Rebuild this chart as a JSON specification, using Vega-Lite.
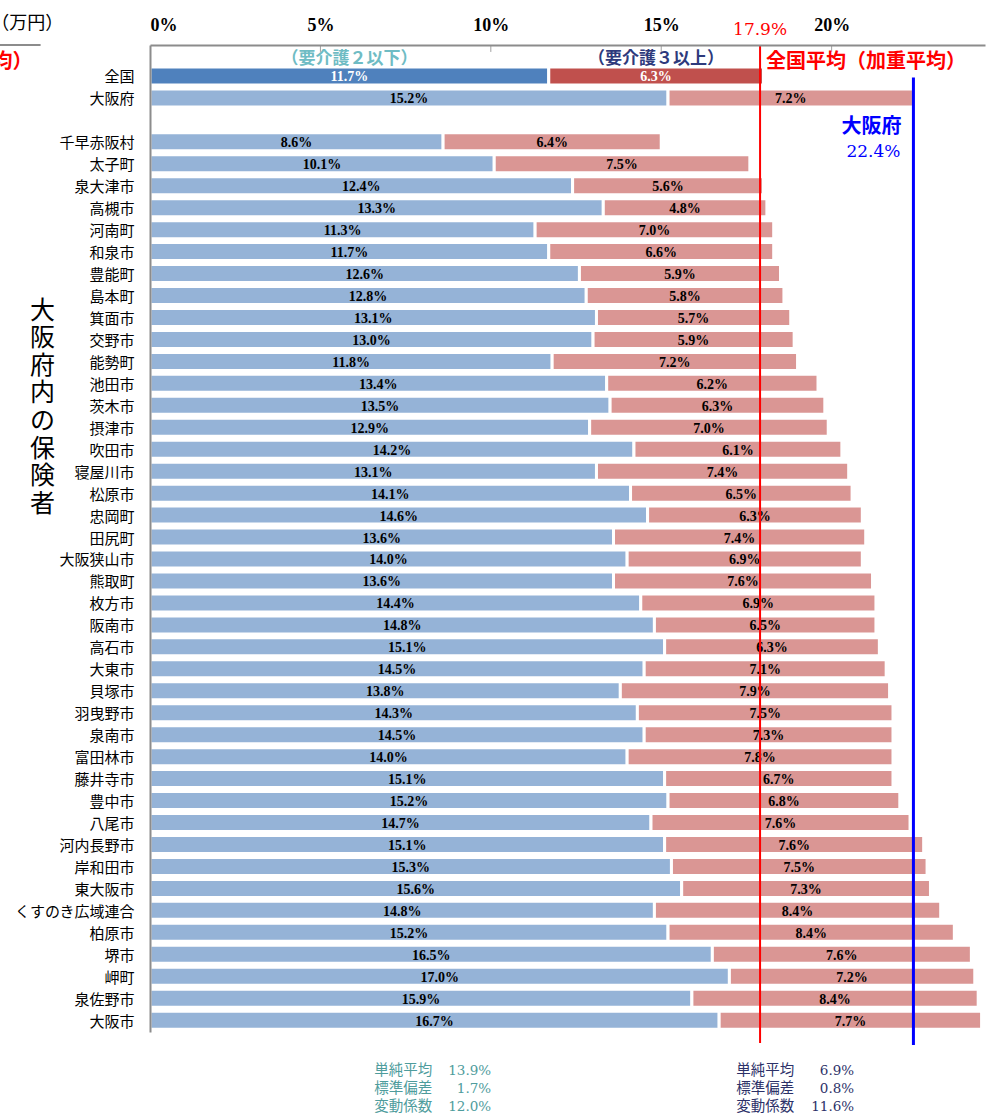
{
  "$schema": "https://vega.github.io/schema/vega-lite/v6.json",
  "width": 835,
  "height": 987,
  "autosize": {"type": "none"},
  "padding": {"left": 150, "top": 45, "right": 7, "bottom": 86},
  "config": {
    "view": {"stroke": null},
    "locale": {"number": {"decimal": ".", "thousands": ",", "grouping": [3], "currency": ["", "%"]}}
  },
  "datasets": {
    "main": [
      {"name": "全国", "level2orLess": 11.7, "level3orMore": 6.3},
      {"name": "大阪府", "level2orLess": 15.2, "level3orMore": 7.2},
      {"name": "千早赤阪村", "level2orLess": 8.6, "level3orMore": 6.4},
      {"name": "太子町", "level2orLess": 10.1, "level3orMore": 7.5},
      {"name": "泉大津市", "level2orLess": 12.4, "level3orMore": 5.6},
      {"name": "高槻市", "level2orLess": 13.3, "level3orMore": 4.8},
      {"name": "河南町", "level2orLess": 11.3, "level3orMore": 7.0},
      {"name": "和泉市", "level2orLess": 11.7, "level3orMore": 6.6},
      {"name": "豊能町", "level2orLess": 12.6, "level3orMore": 5.9},
      {"name": "島本町", "level2orLess": 12.8, "level3orMore": 5.8},
      {"name": "箕面市", "level2orLess": 13.1, "level3orMore": 5.7},
      {"name": "交野市", "level2orLess": 13.0, "level3orMore": 5.9},
      {"name": "能勢町", "level2orLess": 11.8, "level3orMore": 7.2},
      {"name": "池田市", "level2orLess": 13.4, "level3orMore": 6.2},
      {"name": "茨木市", "level2orLess": 13.5, "level3orMore": 6.3},
      {"name": "摂津市", "level2orLess": 12.9, "level3orMore": 7.0},
      {"name": "吹田市", "level2orLess": 14.2, "level3orMore": 6.1},
      {"name": "寝屋川市", "level2orLess": 13.1, "level3orMore": 7.4},
      {"name": "松原市", "level2orLess": 14.1, "level3orMore": 6.5},
      {"name": "忠岡町", "level2orLess": 14.6, "level3orMore": 6.3},
      {"name": "田尻町", "level2orLess": 13.6, "level3orMore": 7.4},
      {"name": "大阪狭山市", "level2orLess": 14.0, "level3orMore": 6.9},
      {"name": "熊取町", "level2orLess": 13.6, "level3orMore": 7.6},
      {"name": "枚方市", "level2orLess": 14.4, "level3orMore": 6.9},
      {"name": "阪南市", "level2orLess": 14.8, "level3orMore": 6.5},
      {"name": "高石市", "level2orLess": 15.1, "level3orMore": 6.3},
      {"name": "大東市", "level2orLess": 14.5, "level3orMore": 7.1},
      {"name": "貝塚市", "level2orLess": 13.8, "level3orMore": 7.9},
      {"name": "羽曳野市", "level2orLess": 14.3, "level3orMore": 7.5},
      {"name": "泉南市", "level2orLess": 14.5, "level3orMore": 7.3},
      {"name": "富田林市", "level2orLess": 14.0, "level3orMore": 7.8},
      {"name": "藤井寺市", "level2orLess": 15.1, "level3orMore": 6.7},
      {"name": "豊中市", "level2orLess": 15.2, "level3orMore": 6.8},
      {"name": "八尾市", "level2orLess": 14.7, "level3orMore": 7.6},
      {"name": "河内長野市", "level2orLess": 15.1, "level3orMore": 7.6},
      {"name": "岸和田市", "level2orLess": 15.3, "level3orMore": 7.5},
      {"name": "東大阪市", "level2orLess": 15.6, "level3orMore": 7.3},
      {"name": "くすのき広域連合", "level2orLess": 14.8, "level3orMore": 8.4},
      {"name": "柏原市", "level2orLess": 15.2, "level3orMore": 8.4},
      {"name": "堺市", "level2orLess": 16.5, "level3orMore": 7.6},
      {"name": "岬町", "level2orLess": 17.0, "level3orMore": 7.2},
      {"name": "泉佐野市", "level2orLess": 15.9, "level3orMore": 8.4},
      {"name": "大阪市", "level2orLess": 16.7, "level3orMore": 7.7}
    ],
    "stats": [
      {"group": "要介護2以下", "stat": "単純平均", "value": 13.9},
      {"group": "要介護2以下", "stat": "標準偏差", "value": 1.7},
      {"group": "要介護2以下", "stat": "変動係数", "value": 12.0},
      {"group": "要介護3以上", "stat": "単純平均", "value": 6.9},
      {"group": "要介護3以上", "stat": "標準偏差", "value": 0.8},
      {"group": "要介護3以上", "stat": "変動係数", "value": 11.6}
    ],
    "ticks": [{"tick": 5}, {"tick": 10}, {"tick": 15}, {"tick": 20}]
  },
  "resolve": {"scale": {"x": "independent"}},
  "layer": [
    {
      "layer": [
        {
          "data": {"name": "main"},
          "transform": [{"fold": ["level2orLess", "level3orMore"], "as": ["key", "value"]}],
          "mark": {"type": "bar", "stroke": "white", "strokeWidth": 3},
          "encoding": {
            "y": {
              "field": "name", "type": "nominal",
              "scale": {
                "domain": ["_top", "全国", "大阪府", "_gap", "千早赤阪村", "太子町", "泉大津市", "高槻市", "河南町", "和泉市", "豊能町", "島本町", "箕面市", "交野市", "能勢町", "池田市", "茨木市", "摂津市", "吹田市", "寝屋川市", "松原市", "忠岡町", "田尻町", "大阪狭山市", "熊取町", "枚方市", "阪南市", "高石市", "大東市", "貝塚市", "羽曳野市", "泉南市", "富田林市", "藤井寺市", "豊中市", "八尾市", "河内長野市", "岸和田市", "東大阪市", "くすのき広域連合", "柏原市", "堺市", "岬町", "泉佐野市", "大阪市"],
                "paddingInner": 0.05, "paddingOuter": 0
              },
              "axis": {
                "title": ["大", "阪", "府", "内", "の", "保", "険", "者"],
                "titleAngle": 0, "titleFont": "Noto Sans CJK JP", "titleFontSize": 25, "titleFontWeight": "normal",
                "titleLineHeight": 27.6, "titleX": -108, "titleY": 253, "titleAlign": "center", "titleBaseline": "top", "titleColor": "#000000",
                "labelExpr": "indexof(datum.value, '_') === 0 ? '' : datum.value",
                "labelFont": "Noto Sans CJK JP", "labelFontSize": 15, "labelColor": "#000000", "labelPadding": 16,
                "ticks": false, "domainColor": "#8c8c8c", "domainWidth": 2, "grid": false, "zindex": 1
              }
            },
            "x": {
              "field": "value", "type": "quantitative", "stack": "zero",
              "scale": {"domain": [0, 24.5], "nice": false},
              "axis": {
                "orient": "top", "values": [0, 5, 10, 15, 20], "labelExpr": "datum.value + '%'", "title": null, "grid": false,
                "domainColor": "#8c8c8c", "domainWidth": 2, "ticks": false, "labelPadding": 11,
                "labelFont": "Liberation Serif", "labelFontWeight": "bold", "labelFontSize": 18, "labelColor": "#000000", "zindex": 1
              }
            },
            "order": {"field": "key", "sort": "ascending"},
            "color": {
              "condition": [
                {"test": "datum.name === '全国' && datum.key === 'level2orLess'", "value": "#4F81BD"},
                {"test": "datum.name === '全国'", "value": "#C0504D"},
                {"test": "datum.key === 'level2orLess'", "value": "#95B3D7"}
              ],
              "value": "#DA9694"
            }
          }
        },
        {
          "data": {"name": "ticks"},
          "mark": {"type": "rule", "color": "#a0a0a0", "strokeWidth": 1, "yOffset": -10, "y2Offset": -3.5},
          "encoding": {"x": {"field": "tick", "type": "quantitative"}, "y": {"datum": "_top", "type": "nominal"}, "y2": {"datum": "_top"}}
        },
        {
          "data": {"values": [{}]},
          "mark": {"type": "text", "font": "Noto Sans CJK JP", "fontWeight": "bold", "fontSize": 17, "color": "#6FBCC4", "align": "center", "baseline": "middle", "dy": 4},
          "encoding": {"x": {"datum": 5.85, "type": "quantitative"}, "y": {"datum": "_top", "type": "nominal"}, "text": {"value": "（要介護２以下）"}}
        },
        {
          "data": {"values": [{}]},
          "mark": {"type": "text", "font": "Noto Sans CJK JP", "fontWeight": "bold", "fontSize": 17, "color": "#2E3A7C", "align": "center", "baseline": "middle", "dy": 4},
          "encoding": {"x": {"datum": 14.85, "type": "quantitative"}, "y": {"datum": "_top", "type": "nominal"}, "text": {"value": "（要介護３以上）"}}
        },
        {
          "data": {"values": [{}]},
          "mark": {"type": "text", "font": "Noto Sans CJK JP", "fontSize": 18, "color": "#000000", "align": "center", "baseline": "middle", "dy": -31},
          "encoding": {"x": {"datum": -3.6, "type": "quantitative"}, "y": {"datum": "_top", "type": "nominal"}, "text": {"value": "（万円）"}}
        },
        {
          "data": {"values": [{}]},
          "mark": {"type": "text", "font": "Noto Sans CJK JP", "fontWeight": "bold", "fontSize": 20, "color": "#FF0000", "align": "right", "baseline": "middle", "dy": 7},
          "encoding": {"x": {"datum": -3.45, "type": "quantitative"}, "y": {"datum": "_top", "type": "nominal"}, "text": {"value": "平均）"}}
        },
        {
          "data": {"values": [{}]},
          "mark": {"type": "rule", "color": "#8c8c8c", "strokeWidth": 2, "yOffset": -10.4},
          "encoding": {"x": {"datum": -4.45, "type": "quantitative"}, "x2": {"datum": -3.21}, "y": {"datum": "_top", "type": "nominal"}}
        },
        {
          "data": {"name": "stats"},
          "transform": [{"filter": "datum.group === '要介護2以下'"}],
          "mark": {"type": "text", "font": "Noto Sans CJK JP", "fontSize": 14.5, "color": "#4E9C9C", "align": "left", "baseline": "middle"},
          "encoding": {
            "x": {"datum": 6.58, "type": "quantitative"},
            "y": {"datum": "大阪市", "type": "nominal"},
            "yOffset": {"field": "stat", "type": "nominal", "scale": {"type": "point", "domain": ["単純平均", "標準偏差", "変動係数"], "range": [60, 96], "padding": 0}},
            "text": {"field": "stat"}
          }
        },
        {
          "data": {"name": "stats"},
          "transform": [{"filter": "datum.group === '要介護2以下'"}],
          "mark": {"type": "text", "font": "DejaVu Serif", "fontSize": 13.5, "color": "#4E9C9C", "align": "right", "baseline": "middle"},
          "encoding": {
            "x": {"datum": 10.01, "type": "quantitative"},
            "y": {"datum": "大阪市", "type": "nominal"},
            "yOffset": {"field": "stat", "type": "nominal"},
            "text": {"field": "value", "type": "quantitative", "format": "$.1f"}
          }
        },
        {
          "data": {"name": "stats"},
          "transform": [{"filter": "datum.group === '要介護3以上'"}],
          "mark": {"type": "text", "font": "Noto Sans CJK JP", "fontSize": 14.5, "color": "#2C3168", "align": "left", "baseline": "middle"},
          "encoding": {
            "x": {"datum": 17.2, "type": "quantitative"},
            "y": {"datum": "大阪市", "type": "nominal"},
            "yOffset": {"field": "stat", "type": "nominal"},
            "text": {"field": "stat"}
          }
        },
        {
          "data": {"name": "stats"},
          "transform": [{"filter": "datum.group === '要介護3以上'"}],
          "mark": {"type": "text", "font": "DejaVu Serif", "fontSize": 13.5, "color": "#2C3168", "align": "right", "baseline": "middle"},
          "encoding": {
            "x": {"datum": 20.66, "type": "quantitative"},
            "y": {"datum": "大阪市", "type": "nominal"},
            "yOffset": {"field": "stat", "type": "nominal"},
            "text": {"field": "value", "type": "quantitative", "format": "$.1f"}
          }
        }
      ]
    },
    {
      "layer": [
        {
          "data": {"name": "main"},
          "mark": {"type": "text", "font": "Liberation Serif", "fontWeight": "bold", "fontSize": 14, "baseline": "middle", "align": "center"},
          "encoding": {
            "y": {"field": "name", "type": "nominal"},
            "x": {"field": "level2orLess", "type": "quantitative", "scale": {"domain": [0, 49], "nice": false}, "axis": null},
            "text": {"field": "level2orLess", "type": "quantitative", "format": "$.1f"},
            "color": {"condition": {"test": "datum.name === '全国'", "value": "#FFFFFF"}, "value": "#000000"}
          }
        },
        {
          "data": {"name": "main"},
          "transform": [{"fold": ["level2orLess", "level2orLess", "level3orMore"], "as": ["key", "value"]}],
          "mark": {"type": "text", "font": "Liberation Serif", "fontWeight": "bold", "fontSize": 14, "baseline": "middle", "align": "center"},
          "encoding": {
            "y": {"field": "name", "type": "nominal"},
            "x": {"aggregate": "sum", "field": "value", "type": "quantitative", "scale": {"domain": [0, 49], "nice": false}, "axis": null},
            "text": {"field": "level3orMore", "type": "quantitative", "format": "$.1f"},
            "color": {"condition": {"test": "datum.name === '全国'", "value": "#FFFFFF"}, "value": "#000000"}
          }
        }
      ]
    },
    {
      "layer": [
        {
          "data": {"values": [{"label": "全国平均（加重平均）", "avg": 17.9}]},
          "layer": [
            {
              "mark": {"type": "rule", "color": "#FF0000", "strokeWidth": 2, "yOffset": -10.4, "y2Offset": 21.5},
              "encoding": {
                "x": {"field": "avg", "type": "quantitative", "scale": {"domain": [0, 24.5], "nice": false}, "axis": null},
                "y": {"datum": "_top", "type": "nominal"}, "y2": {"datum": "大阪市"}
              }
            },
            {
              "mark": {"type": "text", "font": "DejaVu Serif", "fontSize": 17, "color": "#FF0000", "align": "center", "baseline": "middle", "dy": -25},
              "encoding": {
                "x": {"field": "avg", "type": "quantitative", "scale": {"domain": [0, 24.5], "nice": false}, "axis": null},
                "y": {"datum": "_top", "type": "nominal"},
                "text": {"field": "avg", "type": "quantitative", "format": "$.1f"}
              }
            },
            {
              "mark": {"type": "text", "font": "Noto Sans CJK JP", "fontWeight": "bold", "fontSize": 20, "color": "#FF0000", "align": "left", "baseline": "middle", "dx": 6, "dy": 7},
              "encoding": {
                "x": {"field": "avg", "type": "quantitative", "scale": {"domain": [0, 24.5], "nice": false}, "axis": null},
                "y": {"datum": "_top", "type": "nominal"},
                "text": {"field": "label"}
              }
            }
          ]
        },
        {
          "data": {"values": [{"label": "大阪府", "avg": 22.4}]},
          "layer": [
            {
              "mark": {"type": "rule", "color": "#0000FF", "strokeWidth": 3, "y2Offset": 23.5},
              "encoding": {
                "x": {"field": "avg", "type": "quantitative", "scale": {"domain": [0, 24.5], "nice": false}, "axis": null},
                "y": {"datum": "全国", "type": "nominal"}, "y2": {"datum": "大阪市"}
              }
            },
            {
              "mark": {"type": "text", "font": "Noto Sans CJK JP", "fontWeight": "bold", "fontSize": 20, "color": "#0000FF", "align": "right", "baseline": "middle", "dx": -12, "dy": 6},
              "encoding": {
                "x": {"field": "avg", "type": "quantitative", "scale": {"domain": [0, 24.5], "nice": false}, "axis": null},
                "y": {"datum": "_gap", "type": "nominal"},
                "text": {"field": "label"}
              }
            },
            {
              "mark": {"type": "text", "font": "DejaVu Serif", "fontSize": 17, "color": "#0000FF", "align": "right", "baseline": "middle", "dx": -13, "dy": 9},
              "encoding": {
                "x": {"field": "avg", "type": "quantitative", "scale": {"domain": [0, 24.5], "nice": false}, "axis": null},
                "y": {"datum": "千早赤阪村", "type": "nominal"},
                "text": {"field": "avg", "type": "quantitative", "format": "$.1f"}
              }
            }
          ]
        }
      ]
    }
  ]
}
